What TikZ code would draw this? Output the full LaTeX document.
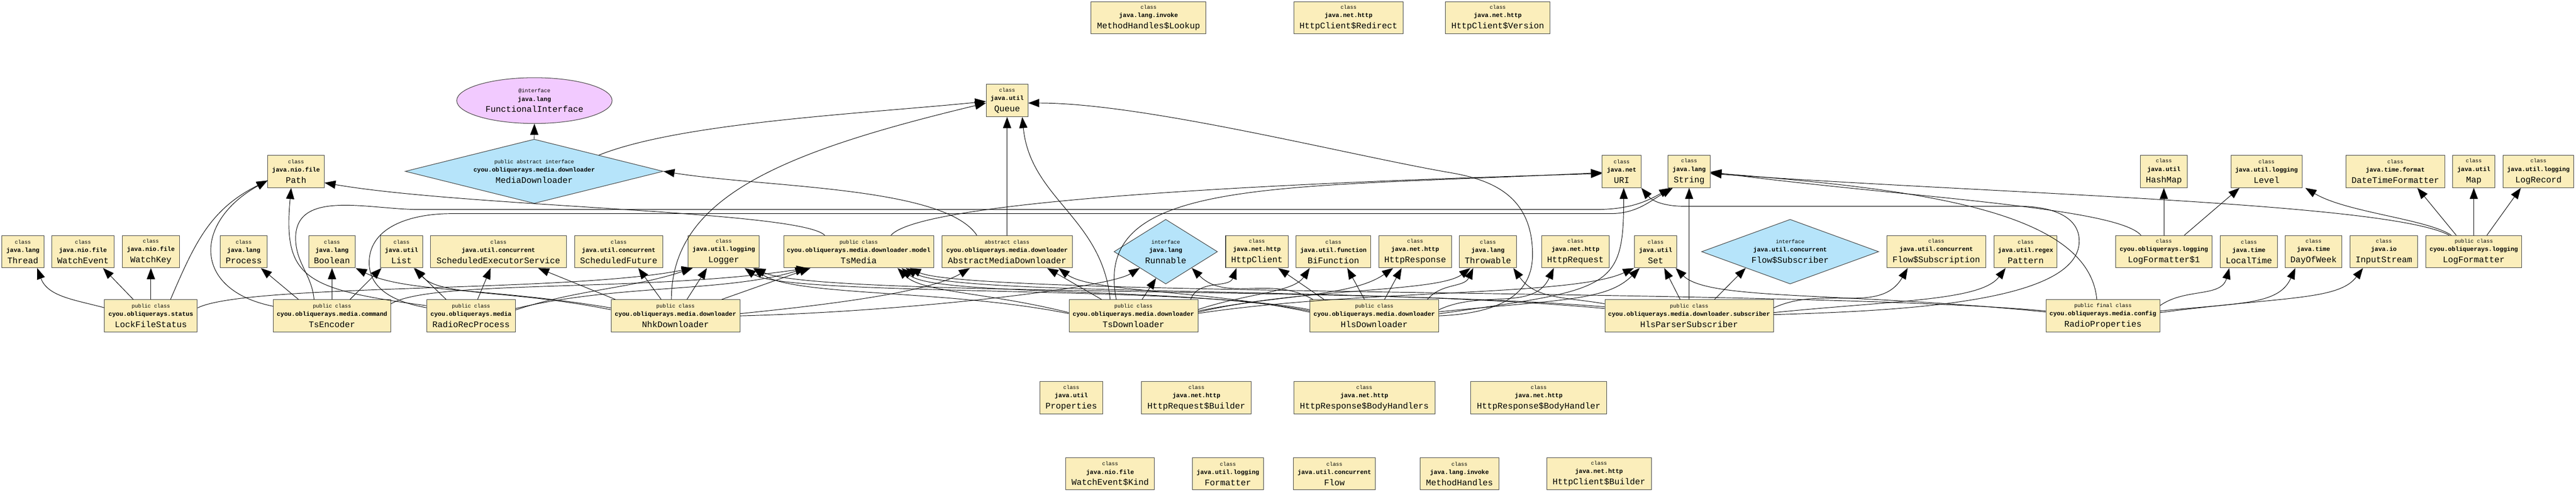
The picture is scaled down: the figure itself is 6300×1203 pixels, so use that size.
\documentclass[tikz,border=0pt]{standalone}
\usepackage{fontspec}
\setmonofont{Liberation Mono}
\usetikzlibrary{arrows.meta,shapes.geometric}

\definecolor{clsfill}{RGB}{251,238,187}
\definecolor{ifacefill}{RGB}{182,228,250}
\definecolor{annotfill}{RGB}{242,202,255}

\newcommand\stype{\fontsize{13}{20.5}\selectfont\mdseries}
\newcommand\cname{\fontsize{21}{20.5}\selectfont\mdseries}

\tikzset{
    javaclass/.style={rectangle, draw=black!75, line width=1.3pt, fill=clsfill, minimum height=79pt, inner sep=0pt, align=center, font=\fontsize{15}{20.5}\selectfont\ttfamily\bfseries},
    javaiface/.style={diamond, draw=black!75, line width=1.3pt, fill=ifacefill, minimum height=157pt, inner sep=0pt, align=center, font=\fontsize{15}{20.5}\selectfont\ttfamily\bfseries},
    javaannot/.style={ellipse, draw=black!75, line width=1.3pt, fill=annotfill, inner sep=0pt, align=center, font=\fontsize{15}{20.5}\selectfont\ttfamily\bfseries},
    dependency/.style={-{Triangle[length=27pt,width=20pt]}, line width=1.2pt}
}

\begin{document}
\begin{tikzpicture}[x=1pt,y=1pt]
        \useasboundingbox (0,0) rectangle (6300,-1203);

        \node[javaclass, minimum width=281pt] (MhLookup) at (2809,-43.5) {{\stype class}\\java.lang.invoke\\[7pt]{\cname MethodHandles\$Lookup}};
        \node[javaclass, minimum width=268pt] (HcRedirect) at (3298,-43.5) {{\stype class}\\java.net.http\\[7pt]{\cname HttpClient\$Redirect}};
        \node[javaclass, minimum width=256pt] (HcVersion) at (3663,-43.5) {{\stype class}\\java.net.http\\[7pt]{\cname HttpClient\$Version}};

        \node[javaannot, minimum width=380pt, minimum height=112pt] (FuncIface) at (1307,-246) {{\stype @interface}\\java.lang\\[7pt]{\cname FunctionalInterface}};
        \node[javaclass, minimum width=102pt] (Queue) at (2463,-246) {{\stype class}\\java.util\\[7pt]{\cname Queue}};

        \node[javaclass, minimum width=138pt] (Path) at (724,-419.5) {{\stype class}\\java.nio.file\\[7pt]{\cname Path}};
        \node[javaiface, minimum width=631pt, aspect=4] (MediaDl) at (1306.5,-419) {{\stype public abstract interface}\\cyou.obliquerays.media.downloader\\[7pt]{\cname MediaDownloader}};
        \node[javaclass, minimum width=95pt] (URI) at (3966,-419.5) {{\stype class}\\java.net\\[7pt]{\cname URI}};
        \node[javaclass, minimum width=103pt] (String) at (4131,-419.5) {{\stype class}\\java.lang\\[7pt]{\cname String}};
        \node[javaclass, minimum width=114pt] (HashMap) at (5292,-419.5) {{\stype class}\\java.util\\[7pt]{\cname HashMap}};
        \node[javaclass, minimum width=174pt] (Level) at (5543,-419.5) {{\stype class}\\java.util.logging\\[7pt]{\cname Level}};
        \node[javaclass, minimum width=242pt] (DTFormatter) at (5858,-419.5) {{\stype class}\\java.time.format\\[7pt]{\cname DateTimeFormatter}};
        \node[javaclass, minimum width=103pt] (Map) at (6050,-419.5) {{\stype class}\\java.util\\[7pt]{\cname Map}};
        \node[javaclass, minimum width=173pt] (LogRecord) at (6208,-419.5) {{\stype class}\\java.util.logging\\[7pt]{\cname LogRecord}};

        \node[javaclass, minimum width=103pt] (Thread) at (56,-615.5) {{\stype class}\\java.lang\\[7pt]{\cname Thread}};
        \node[javaclass, minimum width=152pt] (WatchEvent) at (203,-615.5) {{\stype class}\\java.nio.file\\[7pt]{\cname WatchEvent}};
        \node[javaclass, minimum width=139pt] (WatchKey) at (369,-615.5) {{\stype class}\\java.nio.file\\[7pt]{\cname WatchKey}};
        \node[javaclass, minimum width=114pt] (Process) at (596,-615.5) {{\stype class}\\java.lang\\[7pt]{\cname Process}};
        \node[javaclass, minimum width=114pt] (Boolean) at (812,-615.5) {{\stype class}\\java.lang\\[7pt]{\cname Boolean}};
        \node[javaclass, minimum width=103pt] (List) at (982,-615.5) {{\stype class}\\java.util\\[7pt]{\cname List}};
        \node[javaclass, minimum width=332pt] (SchedExec) at (1219,-615.5) {{\stype class}\\java.util.concurrent\\[7pt]{\cname ScheduledExecutorService}};
        \node[javaclass, minimum width=216pt] (SchedFuture) at (1513,-615.5) {{\stype class}\\java.util.concurrent\\[7pt]{\cname ScheduledFuture}};
        \node[javaclass, minimum width=174pt] (Logger) at (1770,-615.5) {{\stype class}\\java.util.logging\\[7pt]{\cname Logger}};
        \node[javaclass, minimum width=367pt] (TsMedia) at (2100,-615.5) {{\stype public class}\\cyou.obliquerays.media.downloader.model\\[7pt]{\cname TsMedia}};
        \node[javaclass, minimum width=319pt] (AbstractDl) at (2463,-615.5) {{\stype abstract class}\\cyou.obliquerays.media.downloader\\[7pt]{\cname AbstractMediaDownloader}};
        \node[javaiface, minimum width=253pt, minimum height=158pt, aspect=1.6] (Runnable) at (2851,-615.5) {{\stype interface}\\java.lang\\[7pt]{\cname Runnable}};
        \node[javaclass, minimum width=153pt] (HttpClient) at (3074,-615.5) {{\stype class}\\java.net.http\\[7pt]{\cname HttpClient}};
        \node[javaclass, minimum width=182pt] (BiFunction) at (3261,-615.5) {{\stype class}\\java.util.function\\[7pt]{\cname BiFunction}};
        \node[javaclass, minimum width=178pt] (HttpResponse) at (3461,-615.5) {{\stype class}\\java.net.http\\[7pt]{\cname HttpResponse}};
        \node[javaclass, minimum width=140pt] (Throwable) at (3639,-615.5) {{\stype class}\\java.lang\\[7pt]{\cname Throwable}};
        \node[javaclass, minimum width=165pt] (HttpRequest) at (3853,-615.5) {{\stype class}\\java.net.http\\[7pt]{\cname HttpRequest}};
        \node[javaclass, minimum width=103pt] (Set) at (4049,-615.5) {{\stype class}\\java.util\\[7pt]{\cname Set}};
        \node[javaiface, minimum width=433pt, minimum height=158pt, aspect=2.74] (FlowSub) at (4378,-615.5) {{\stype interface}\\java.util.concurrent\\[7pt]{\cname Flow\$Subscriber}};
        \node[javaclass, minimum width=242pt] (FlowSubscr) at (4735.5,-615.5) {{\stype class}\\java.util.concurrent\\[7pt]{\cname Flow\$Subscription}};
        \node[javaclass, minimum width=154pt] (Pattern) at (4954,-615.5) {{\stype class}\\java.util.regex\\[7pt]{\cname Pattern}};
        \node[javaclass, minimum width=235pt] (LogFmtOne) at (5292,-615.5) {{\stype class}\\cyou.obliquerays.logging\\[7pt]{\cname LogFormatter\$1}};
        \node[javaclass, minimum width=140pt] (LocalTime) at (5500,-615.5) {{\stype class}\\java.time\\[7pt]{\cname LocalTime}};
        \node[javaclass, minimum width=139pt] (DayOfWeek) at (5658,-615.5) {{\stype class}\\java.time\\[7pt]{\cname DayOfWeek}};
        \node[javaclass, minimum width=165pt] (InputStream) at (5830,-615.5) {{\stype class}\\java.io\\[7pt]{\cname InputStream}};
        \node[javaclass, minimum width=235pt] (LogFmt) at (6050,-615.5) {{\stype public class}\\cyou.obliquerays.logging\\[7pt]{\cname LogFormatter}};

        \node[javaclass, minimum width=227pt] (LockFile) at (369,-772.5) {{\stype public class}\\cyou.obliquerays.status\\[7pt]{\cname LockFileStatus}};
        \node[javaclass, minimum width=287pt] (TsEncoder) at (812,-772.5) {{\stype public class}\\cyou.obliquerays.media.command\\[7pt]{\cname TsEncoder}};
        \node[javaclass, minimum width=217pt] (RadioRec) at (1152,-772.5) {{\stype public class}\\cyou.obliquerays.media\\[7pt]{\cname RadioRecProcess}};
        \node[javaclass, minimum width=315pt] (NhkDl) at (1652,-772.5) {{\stype public class}\\cyou.obliquerays.media.downloader\\[7pt]{\cname NhkDownloader}};
        \node[javaclass, minimum width=315pt] (TsDl) at (2772,-772.5) {{\stype public class}\\cyou.obliquerays.media.downloader\\[7pt]{\cname TsDownloader}};
        \node[javaclass, minimum width=315pt] (HlsDl) at (3361,-772.5) {{\stype public class}\\cyou.obliquerays.media.downloader\\[7pt]{\cname HlsDownloader}};
        \node[javaclass, minimum width=412pt] (HlsParser) at (4131,-772.5) {{\stype public class}\\cyou.obliquerays.media.downloader.subscriber\\[7pt]{\cname HlsParserSubscriber}};
        \node[javaclass, minimum width=279pt] (RadioProps) at (5143,-772.5) {{\stype public final class}\\cyou.obliquerays.media.config\\[7pt]{\cname RadioProperties}};

        \node[javaclass, minimum width=153pt] (Properties) at (2620,-973) {{\stype class}\\java.util\\[7pt]{\cname Properties}};
        \node[javaclass, minimum width=268pt] (HreqBuilder) at (2926,-973) {{\stype class}\\java.net.http\\[7pt]{\cname HttpRequest\$Builder}};
        \node[javaclass, minimum width=345pt] (HrespHandlers) at (3336.6,-973) {{\stype class}\\java.net.http\\[7pt]{\cname HttpResponse\$BodyHandlers}};
        \node[javaclass, minimum width=332pt] (HrespHandler) at (3763,-973) {{\stype class}\\java.net.http\\[7pt]{\cname HttpResponse\$BodyHandler}};

        \node[javaclass, minimum width=217pt] (WeKind) at (2715,-1158.7) {{\stype class}\\java.nio.file\\[7pt]{\cname WatchEvent\$Kind}};
        \node[javaclass, minimum width=174pt] (Formatter) at (3003,-1158.7) {{\stype class}\\java.util.logging\\[7pt]{\cname Formatter}};
        \node[javaclass, minimum width=201pt] (Flow) at (3263.5,-1158.7) {{\stype class}\\java.util.concurrent\\[7pt]{\cname Flow}};
        \node[javaclass, minimum width=192pt] (MethodHandles) at (3569.4,-1158.7) {{\stype class}\\java.lang.invoke\\[7pt]{\cname MethodHandles}};
        \node[javaclass, minimum width=256pt] (HcBuilder) at (3910.6,-1158.7) {{\stype class}\\java.net.http\\[7pt]{\cname HttpClient\$Builder}};

        \draw[dependency] (MediaDl.north) -- (FuncIface.south);
        \draw[dependency] (MediaDl.north east) .. controls +(200,80) and +(-300,-30) .. ([yshift=-2pt]Queue.west);
        \draw[dependency] ([xshift=-74pt]AbstractDl.north) .. controls +(-80,120) and +(250,-40) .. (MediaDl.east);
        \draw[dependency] (AbstractDl.north) -- (Queue.south);
        \draw[dependency] ([xshift=-83pt]TsMedia.north) .. controls +(-60,60) and +(350,-60) .. ([yshift=-27.5pt]Path.east);
        \draw[dependency] ([xshift=79pt]TsMedia.north) .. controls +(80,90) and +(-700,-20) .. ([yshift=-5pt]URI.west);

        \draw[dependency] ([yshift=20pt]LockFile.west) to[out=165,in=-70] ([xshift=35pt]Thread.south);
        \draw[dependency] ([xshift=-43pt]LockFile.north) -- ([xshift=49pt]WatchEvent.south);
        \draw[dependency] (LockFile.north) -- (WatchKey.south);
        \draw[dependency] ([xshift=48pt]LockFile.north) .. controls +(60,140) and +(-140,-70) .. ([yshift=-22pt]Path.west);
        \draw[dependency] ([yshift=19.5pt]LockFile.east) .. controls +(120,60) and +(-300,-60) .. ([xshift=-76pt]Logger.south);

        \draw[dependency] ([yshift=23.5pt]TsEncoder.west) .. controls +(-200,40) and +(-180,-100) .. ([yshift=-22pt]Path.west);
        \draw[dependency] ([xshift=-82pt]TsEncoder.north) -- ([xshift=42pt]Process.south);
        \draw[dependency] (TsEncoder.north) -- (Boolean.south);
        \draw[dependency] ([xshift=44pt]TsEncoder.north) -- ([xshift=-49pt]List.south);
        \draw[dependency] ([xshift=-44pt]TsEncoder.north) to[out=95,in=-90] ++(-45,150) to[out=90,in=180] ++(300,70) -- ++(2880,0) to[out=0,in=-150] ([xshift=-46pt]String.south);
        \draw[dependency] ([yshift=29.5pt]TsEncoder.east) .. controls +(100,60) and +(-400,-60) .. ([xshift=-125pt]TsMedia.south);

        \draw[dependency] ([xshift=-61pt]RadioRec.north) -- ([xshift=30pt]List.south);
        \draw[dependency] ([xshift=16pt]RadioRec.north) -- ([xshift=-19pt]SchedExec.south);
        \draw[dependency] ([yshift=14.5pt]RadioRec.east) .. controls +(150,50) and +(-150,-50) .. ([xshift=-76pt]Logger.south);
        \draw[dependency] ([yshift=18pt]RadioRec.east) .. controls +(250,60) and +(-200,-60) .. ([xshift=-128pt]TsMedia.south);
        \draw[dependency] ([yshift=25pt]RadioRec.west) .. controls +(-300,40) and +(-20,-220) .. ([xshift=-12pt]Path.south);
        \draw[dependency] ([yshift=20pt]RadioRec.west) to[out=170,in=-90] ++(-140,110) to[out=90,in=180] ++(200,120) -- ++(2835,0) to[out=0,in=-150] ([xshift=-40pt]String.south);

        \draw[dependency] ([yshift=19.5pt]NhkDl.west) .. controls +(-300,50) and +(120,-60) .. ([xshift=58pt]Boolean.south);
        \draw[dependency] ([yshift=15pt]NhkDl.west) .. controls +(-250,50) and +(60,-70) .. ([xshift=33pt]List.south);
        \draw[dependency] ([xshift=-147pt]NhkDl.north) -- ([xshift=97pt]SchedExec.south);
        \draw[dependency] ([xshift=-35pt]NhkDl.north) -- ([xshift=48pt]SchedFuture.south);
        \draw[dependency] ([xshift=28pt]NhkDl.north) -- ([xshift=-41pt]Logger.south);
        \draw[dependency] ([xshift=-10pt]NhkDl.north) .. controls +(0,250) and +(-500,-120) .. ([yshift=-6pt]Queue.west);
        \draw[dependency] ([xshift=113pt]NhkDl.north) -- ([xshift=-118pt]TsMedia.south);
        \draw[dependency] ([yshift=5.5pt]NhkDl.east) .. controls +(200,20) and +(-100,-60) .. ([xshift=-91pt]AbstractDl.south);
        \draw[dependency] (NhkDl.east) .. controls +(400,10) and +(-80,-50) .. (Runnable.south west);

        \draw[dependency] ([yshift=5.5pt]TsDl.west) .. controls +(-300,60) and +(100,-70) .. ([xshift=72pt]Logger.south);
        \draw[dependency] ([yshift=8pt]TsDl.west) .. controls +(-200,50) and +(60,-60) .. ([xshift=95pt]TsMedia.south);
        \draw[dependency] ([xshift=-78pt]TsDl.north) -- ([xshift=98pt]AbstractDl.south);
        \draw[dependency] ([xshift=-57pt]TsDl.north) .. controls +(-20,200) and +(20,-200) .. ([xshift=37pt]Queue.south);
        \draw[dependency] ([xshift=-42pt]TsDl.north) .. controls +(-60,300) and +(-800,-40) .. ([yshift=-2.5pt]URI.west);
        \draw[dependency] ([xshift=21pt]TsDl.north) -- (Runnable.250);
        \draw[dependency] ([xshift=140pt]TsDl.north) to[out=70,in=-110] ([xshift=-50pt]HttpClient.south);
        \draw[dependency] ([yshift=15.5pt]TsDl.east) .. controls +(120,40) and +(-40,-60) .. ([xshift=-58pt]BiFunction.south);
        \draw[dependency] ([yshift=12pt]TsDl.east) .. controls +(200,40) and +(-100,-70) .. ([xshift=-54pt]HttpResponse.south);
        \draw[dependency] ([yshift=9pt]TsDl.east) .. controls +(250,60) and +(-80,-60) .. ([xshift=-43pt]Throwable.south);
        \draw[dependency] ([yshift=6pt]TsDl.east) .. controls +(400,60) and +(-150,-70) .. ([xshift=-53pt]Set.south);

        \draw[dependency] ([yshift=15pt]HlsDl.west) .. controls +(-300,60) and +(100,-70) .. ([xshift=51pt]Logger.south);
        \draw[dependency] ([yshift=12pt]HlsDl.west) .. controls +(-300,60) and +(80,-70) .. ([xshift=105pt]TsMedia.south);
        \draw[dependency] ([yshift=9pt]HlsDl.west) .. controls +(-250,55) and +(80,-60) .. ([xshift=126pt]AbstractDl.south);
        \draw[dependency] ([xshift=-150pt]HlsDl.north) to[out=150,in=-45] (Runnable.south east);
        \draw[dependency] ([xshift=-123pt]HlsDl.north) -- ([xshift=52pt]HttpClient.south);
        \draw[dependency] ([xshift=-24pt]HlsDl.north) -- ([xshift=34pt]BiFunction.south);
        \draw[dependency] ([xshift=25pt]HlsDl.north) -- ([xshift=-33pt]HttpResponse.south);
        \draw[dependency] ([xshift=130pt]HlsDl.north) to[out=50,in=-115] ([xshift=-36pt]Throwable.south);
        \draw[dependency] ([yshift=15pt]HlsDl.east) to[out=25,in=-115] ([xshift=-53pt]HttpRequest.south);
        \draw[dependency] ([yshift=10pt]HlsDl.east) .. controls +(300,30) and +(-80,-80) .. ([xshift=-39pt]Set.south);
        \draw[dependency] ([yshift=5pt]HlsDl.east) .. controls +(420,60) and +(0,-250) .. ([xshift=5pt]URI.south);
        \draw[dependency] (HlsDl.east) .. controls (3700,-765) and (3748,-700) .. (3748,-622.5) .. controls (3748,-480) and (3650,-440) .. (3548,-422.5) .. controls (3300,-380) and (2800,-252) .. ([yshift=-6pt]Queue.east);

        \draw[dependency] ([xshift=-22pt]HlsParser.north) -- ([xshift=21pt]Set.south);
        \draw[dependency] (HlsParser.north) -- (String.south);
        \draw[dependency] ([xshift=62pt]HlsParser.north) -- (FlowSub.south west);
        \draw[dependency] ([yshift=19.5pt]HlsParser.east) to[out=25,in=-120] ([xshift=-70pt]FlowSubscr.south);
        \draw[dependency] ([yshift=8pt]HlsParser.east) .. controls +(300,30) and +(-60,-80) .. ([xshift=-49pt]Pattern.south);
        \draw[dependency] ([yshift=3pt]HlsParser.east) .. controls (4650,-760) and (5085,-740) .. (5085,-589.5) to[out=90,in=0] ++(-145,85) -- ++(-820,0) to[out=180,in=-50] (URI.south east);
        \draw[dependency] ([yshift=29.5pt]HlsParser.west) to[out=170,in=-55] ([xshift=62pt]Throwable.south);
        \draw[dependency] ([yshift=22pt]HlsParser.west) .. controls +(-600,50) and +(150,-70) .. ([xshift=75pt]Logger.south);
        \draw[dependency] ([yshift=18pt]HlsParser.west) .. controls +(-600,55) and +(120,-70) .. ([xshift=115pt]TsMedia.south);

        \draw[dependency] ([yshift=25.5pt]RadioProps.east) to[out=35,in=-105] ([xshift=-48pt]LocalTime.south);
        \draw[dependency] ([yshift=12pt]RadioProps.east) .. controls +(200,20) and +(-40,-90) .. ([xshift=-44.5pt]DayOfWeek.south);
        \draw[dependency] ([yshift=8pt]RadioProps.east) .. controls +(300,40) and +(-60,-80) .. ([xshift=-51pt]InputStream.south);
        \draw[dependency] ([xshift=-15pt]RadioProps.north) .. controls +(-20,220) and +(500,-40) .. ([yshift=-3pt]String.east);
        \draw[dependency] ([yshift=9.5pt]RadioProps.west) .. controls +(-500,50) and +(80,-80) .. ([xshift=49pt]Set.south);
        \draw[dependency] ([yshift=12pt]RadioProps.west) .. controls +(-600,55) and +(150,-70) .. ([xshift=125pt]TsMedia.south);

        \draw[dependency] (LogFmtOne.north) -- (HashMap.south);
        \draw[dependency] ([xshift=50pt]LogFmtOne.north) -- ([xshift=-66pt]Level.south);
        \draw[dependency] ([xshift=-56pt]LogFmtOne.north) .. controls +(-60,70) and +(450,-60) .. ([yshift=-1pt]String.east);

        \draw[dependency] ([xshift=-55pt]LogFmt.north) .. controls +(-60,40) and +(100,-60) .. ([xshift=95pt]Level.south);
        \draw[dependency] ([xshift=-43pt]LogFmt.north) -- ([xshift=54pt]DTFormatter.south);
        \draw[dependency] (LogFmt.north) -- (Map.south);
        \draw[dependency] ([xshift=32pt]LogFmt.north) -- ([xshift=-43pt]LogRecord.south);
        \draw[dependency] ([xshift=-60pt]LogFmt.north) .. controls +(-150,80) and +(700,-50) .. ([yshift=-5pt]String.east);
\end{tikzpicture}
\end{document}
